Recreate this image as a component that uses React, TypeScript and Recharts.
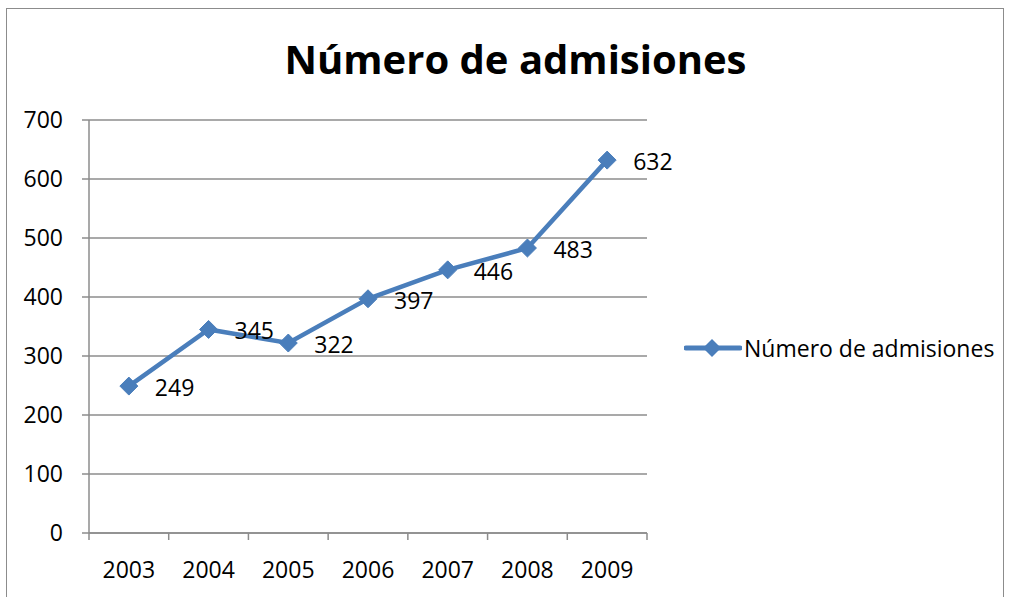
import React from 'react';
import { LineChart, Line, XAxis, YAxis, CartesianGrid, LabelList } from 'recharts';

const years = ['2003', '2004', '2005', '2006', '2007', '2008', '2009'];
const admisiones = [249, 345, 322, 397, 446, 483, 632];
const yTicks = [0, 100, 200, 300, 400, 500, 600, 700];
const seriesName = 'Número de admisiones';
const chartTitle = 'Número de admisiones';

const data = years.map((y, i) => ({ pos: i + 0.5, year: y, value: admisiones[i] }));
const xTicks: number[] = [];
for (let i = 0; i <= years.length * 2; i++) xTicks.push(i / 2);

const FONT = '"Open Sans", "Noto Sans", sans-serif';
const COLOR = '#4A7EBB';
const GRID = '#8C8C8C';
const FS = 23;

const Diamond = (props: any) => {
  const { cx, cy } = props;
  if (cx == null || cy == null) return null;
  const r = 9;
  return <polygon points={`${cx},${cy - r} ${cx + r},${cy} ${cx},${cy + r} ${cx - r},${cy}`} fill={COLOR} stroke={COLOR} strokeWidth={1} />;
};

const XTick = (props: any) => {
  const { x, y, payload } = props;
  const v = payload.value as number;
  if (Number.isInteger(v)) {
    return <line x1={x} x2={x} y1={y} y2={y + 7} stroke={GRID} strokeWidth={1.5} />;
  }
  const label = years[Math.floor(v)];
  return (
    <text x={x} y={y + 36} textAnchor="middle" dominantBaseline="central" fontFamily={FONT} fontSize={FS} fill="#000">
      {label}
    </text>
  );
};

const ValueLabel = (props: any) => {
  const { x, y, value } = props;
  return (
    <text x={x + 26} y={y + 1} textAnchor="start" dominantBaseline="central" fontFamily={FONT} fontSize={FS} fill="#000">
      {value}
    </text>
  );
};

const LegendBox = () => (
  <div style={{ position: 'absolute', left: 684, top: 332, display: 'flex', alignItems: 'center', fontFamily: FONT, fontSize: FS, color: '#000', whiteSpace: 'nowrap' }}>
    <svg width={58} height={24} style={{ display: 'block' }}>
      <line x1={2} x2={56} y1={12} y2={12} stroke={COLOR} strokeWidth={5} strokeLinecap="round" />
      <polygon points="28,3 37,12 28,21 19,12" fill={COLOR} />
    </svg>
    <span style={{ marginLeft: 2 }}>{seriesName}</span>
  </div>
);

export default function App() {
  return (
    <div style={{ position: 'absolute', left: 0, top: 0, width: 1011, height: 597, background: '#fff', overflow: 'hidden' }}>
      <div style={{ position: 'absolute', left: 6, top: 8, width: 998, height: 620, border: '1.5px solid #8C8C8C', boxSizing: 'border-box' }} />
      <div style={{ position: 'absolute', left: 0, top: 30, width: 1031, textAlign: 'center', fontFamily: FONT, fontWeight: 700, fontSize: 40, color: '#000', lineHeight: '58px' }}>
        {chartTitle}
      </div>
      <div style={{ position: 'absolute', left: 0, top: 0 }}>
        <LineChart width={1011} height={597} data={data} margin={{ top: 120, right: 364, bottom: 0, left: 0 }}>
          <CartesianGrid horizontal={true} vertical={false} stroke={GRID} strokeWidth={1.5} />
          <XAxis
            dataKey="pos"
            type="number"
            domain={[0, years.length]}
            ticks={xTicks}
            interval={0}
            tickLine={false}
            tickSize={0}
            tickMargin={0}
            height={64}
            axisLine={{ stroke: GRID, strokeWidth: 1.5 }}
            tick={<XTick />}
          />
          <YAxis
            domain={[0, 700]}
            ticks={yTicks}
            interval={0}
            width={89}
            tickSize={7}
            tickMargin={19}
            axisLine={{ stroke: GRID, strokeWidth: 1.5 }}
            tickLine={{ stroke: GRID, strokeWidth: 1.5 }}
            tick={{ fontFamily: FONT, fontSize: FS, fill: '#000' }}
          />
          <Line
            type="linear"
            dataKey="value"
            name={seriesName}
            stroke={COLOR}
            strokeWidth={4.5}
            dot={<Diamond />}
            activeDot={false}
            isAnimationActive={false}
          >
            <LabelList dataKey="value" content={<ValueLabel />} />
          </Line>
        </LineChart>
      </div>
      <LegendBox />
    </div>
  );
}
